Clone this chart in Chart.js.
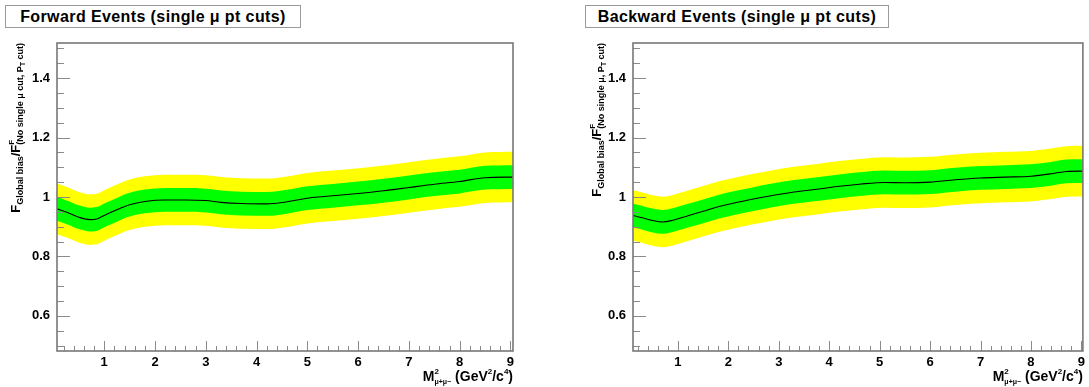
<!DOCTYPE html>
<html><head><meta charset="utf-8">
<script src="https://cdn.jsdelivr.net/npm/chart.js@4.4.0/dist/chart.umd.min.js"></script>
<style>
body{margin:0;background:#fff;width:1089px;height:387px;overflow:hidden;position:relative}
.wrap{position:absolute;top:0}
.ttl{position:absolute;top:5px;height:23px;box-sizing:border-box;border:1px solid #9a9a9a;background:#fff;color:#000;
 font:bold 16px "Liberation Sans",Arial,sans-serif;letter-spacing:0.4px;line-height:21px;text-align:center;white-space:nowrap;z-index:2}
</style></head><body>
<div class="wrap" style="left:0;width:545px;height:387px"><canvas id="c1" width="545" height="387"></canvas></div>
<div class="wrap" style="left:545px;width:544px;height:387px"><canvas id="c2" width="544" height="387"></canvas></div>
<div class="ttl" style="left:5px;width:296px">Forward Events (single μ pt cuts)</div>
<div class="ttl" style="left:585px;width:304px">Backward Events (single μ pt cuts)</div>
<script>
// ---------- data ----------
const titles = ["Forward Events (single μ pt cuts)", "Backward Events (single μ pt cuts)"];
const xTickLabels = [1, 2, 3, 4, 5, 6, 7, 8, 9];
const yTickLabels = [0.6, 0.8, 1, 1.2, 1.4];

// Forward panel
const fwdX      = [0.07,0.3,0.5,0.72,0.85,1.0,1.25,1.5,1.8,2.2,2.6,3.0,3.3,3.7,4.2,4.6,5.0,5.5,6.0,6.5,7.0,7.5,8.0,8.5,9.05];
const fwdRatio  = [0.960,0.946,0.932,0.924,0.926,0.938,0.957,0.974,0.985,0.990,0.990,0.988,0.982,0.978,0.977,0.984,0.996,1.004,1.012,1.021,1.032,1.043,1.052,1.065,1.067];
const fwdGreenHi= [1.000,0.986,0.972,0.964,0.966,0.978,0.997,1.014,1.025,1.030,1.030,1.028,1.022,1.018,1.017,1.024,1.036,1.044,1.052,1.061,1.072,1.083,1.092,1.105,1.107];
const fwdGreenLo= [0.920,0.906,0.892,0.884,0.886,0.898,0.917,0.934,0.945,0.950,0.950,0.948,0.942,0.938,0.937,0.944,0.956,0.964,0.972,0.981,0.992,1.003,1.012,1.025,1.027];
const fwdYellowHi=[1.045,1.031,1.017,1.009,1.011,1.023,1.042,1.059,1.070,1.075,1.075,1.073,1.067,1.063,1.062,1.069,1.081,1.089,1.097,1.106,1.117,1.128,1.137,1.150,1.152];
const fwdYellowLo=[0.875,0.861,0.847,0.839,0.841,0.853,0.872,0.889,0.900,0.905,0.905,0.903,0.897,0.893,0.892,0.899,0.911,0.919,0.927,0.936,0.947,0.958,0.967,0.980,0.982];

// Backward panel
const bwdX      = [0.1,0.3,0.5,0.7,0.9,1.2,1.5,1.8,2.1,2.5,2.9,3.3,3.8,4.2,4.6,5.1,5.5,6.0,6.5,7.0,7.5,8.0,8.4,8.7,9.05];
const bwdRatio  = [0.938,0.930,0.921,0.916,0.922,0.937,0.952,0.967,0.979,0.993,1.006,1.017,1.027,1.036,1.043,1.049,1.048,1.050,1.058,1.064,1.067,1.070,1.078,1.086,1.087];
const bwdGreenHi= [0.978,0.970,0.961,0.956,0.962,0.977,0.992,1.007,1.019,1.033,1.046,1.057,1.067,1.076,1.083,1.089,1.088,1.090,1.098,1.104,1.107,1.110,1.118,1.126,1.127];
const bwdGreenLo= [0.898,0.890,0.881,0.876,0.882,0.897,0.912,0.927,0.939,0.953,0.966,0.977,0.987,0.996,1.003,1.009,1.008,1.010,1.018,1.024,1.027,1.030,1.038,1.046,1.047];
const bwdYellowHi=[1.023,1.015,1.006,1.001,1.007,1.022,1.037,1.052,1.064,1.078,1.091,1.102,1.112,1.121,1.128,1.134,1.133,1.135,1.143,1.149,1.152,1.155,1.163,1.171,1.172];
const bwdYellowLo=[0.853,0.845,0.836,0.831,0.837,0.852,0.867,0.882,0.894,0.908,0.921,0.932,0.942,0.951,0.958,0.964,0.963,0.965,0.973,0.979,0.982,0.985,0.993,1.001,1.002];

// ---------- drawing helpers ----------
const FONT = '"Liberation Sans", Arial, sans-serif';
function pts(xs, ys){ return xs.map((x,i)=>({x:x, y:ys[i]})); }

function richWidth(ctx, segs){
  let w=0, pending=0;
  segs.forEach(s=>{
    ctx.font = 'bold '+s.s+'px '+FONT;
    const m = ctx.measureText(s.t).width;
    if (s.stack){ pending = Math.max(pending, m); }
    else { w += Math.max(m, pending); pending=0; }
  });
  return w + pending;
}
function drawRich(ctx, segs, x, y){
  let cx=x, pending=0;
  segs.forEach(s=>{
    ctx.font = 'bold '+s.s+'px '+FONT;
    ctx.textAlign='left'; ctx.textBaseline='alphabetic';
    ctx.fillText(s.t, cx, y+(s.dy||0));
    const m = ctx.measureText(s.t).width;
    if (s.stack){ pending = Math.max(pending, m); }
    else { cx += Math.max(m, pending); pending=0; }
  });
}

const xTitleSegs = [{t:'M',s:14},{t:'2',s:8,dy:-7,stack:true},{t:'μ+μ−',s:7,dy:3},{t:' (GeV',s:14},{t:'2',s:8,dy:-7},{t:'/c',s:14},{t:'4',s:8,dy:-7},{t:')',s:14}];
const yTitleFwd = [{t:'F',s:13},{t:'Global bias',s:9,dy:3},{t:'/F',s:13},{t:'F',s:8,dy:-6,stack:true},{t:'(No single μ cut, P',s:9,dy:3},{t:'T',s:7,dy:5},{t:' cut)',s:9,dy:3}];
const yTitleBwd = [{t:'F',s:13},{t:'Global bias',s:9,dy:3},{t:'/F',s:13},{t:'F',s:8,dy:-6,stack:true},{t:'(No single μ, P',s:9,dy:3},{t:'T',s:7,dy:5},{t:' cut)',s:9,dy:3}];

const framePlugin = {
  id:'frame',
  afterDraw(chart, args, o){
    const ctx = chart.ctx, a = chart.chartArea, xs = chart.scales.x, ys = chart.scales.y;
    ctx.save();
    ctx.strokeStyle = '#8a8a8a'; ctx.lineWidth = 1;
    // y ticks (inside)
    for (let k=0;k<=20;k++){
      const v = 0.5 + 0.05*k;
      if (v < ys.min || v > ys.max) continue;
      const py = Math.round(ys.getPixelForValue(v)) + 0.5;
      const len = (k%4===2) ? 13 : 7;
      ctx.beginPath(); ctx.moveTo(a.left, py); ctx.lineTo(a.left+len, py); ctx.stroke();
    }
    // x ticks (inside)
    for (let k=0;k<=46;k++){
      const v = 0.2*k;
      if (v < xs.min || v > xs.max+1e-6) continue;
      const px = Math.round(xs.getPixelForValue(v)) + 0.5;
      const len = (k%5===0) ? 10 : 5;
      ctx.beginPath(); ctx.moveTo(px, a.bottom); ctx.lineTo(px, a.bottom-len); ctx.stroke();
    }
    // frame
    ctx.strokeStyle = '#777'; ctx.lineWidth = 1.6;
    ctx.strokeRect(a.left, a.top, a.right-a.left, a.bottom-a.top);
    ctx.fillStyle = '#000';
    // x title, right aligned at frame right
    const wx = richWidth(ctx, xTitleSegs);
    drawRich(ctx, xTitleSegs, a.right - wx, 381);
    // y title, rotated, right aligned at frame top
    const wy = richWidth(ctx, o.ySegs);
    ctx.translate(o.yTitleX, a.top);
    ctx.rotate(-Math.PI/2);
    drawRich(ctx, o.ySegs, -wy, 0);
    ctx.restore();
  }
};

function makeChart(id, xs, c, gh, gl, yh, yl, opt){
  const line = {pointRadius:0, borderWidth:0, borderColor:'rgba(0,0,0,0)', cubicInterpolationMode:'monotone'};
  return new Chart(document.getElementById(id), {
    type:'line',
    data:{ datasets:[
      Object.assign({data:pts(xs,yh), fill:'+1', backgroundColor:'#ffff00', order:3}, line),
      Object.assign({data:pts(xs,yl), fill:false, order:3}, line),
      Object.assign({data:pts(xs,gh), fill:'+1', backgroundColor:'#00ff00', order:2}, line),
      Object.assign({data:pts(xs,gl), fill:false, order:2}, line),
      {data:pts(xs,c), fill:false, borderColor:'#000', borderWidth:1.1, pointRadius:0, cubicInterpolationMode:'monotone', order:1}
    ]},
    options:{
      responsive:false, animation:false, events:[],
      layout:{padding:{left:0, right:opt.rightPad, top:43, bottom:0}},
      plugins:{legend:{display:false}, tooltip:{enabled:false}, title:{display:false},
        frame:{ySegs:opt.ySegs, yTitleX:opt.yTitleX}},
      scales:{
        x:{type:'linear', min:opt.xmin, max:opt.xmax,
           afterFit:s=>{s.height=36;},
           afterBuildTicks:s=>{s.ticks = xTickLabels.map(v=>({value:v}));},
           ticks:{padding:4, color:'#000', font:{family:FONT, size:13, weight:'bold'}, callback:v=>String(v), maxRotation:0, autoSkip:false},
           grid:{display:false, drawTicks:false}, border:{display:false}},
        y:{type:'linear', min:0.482, max:1.518,
           afterFit:s=>{s.width=opt.yWidth;},
           afterBuildTicks:s=>{s.ticks = yTickLabels.map(v=>({value:v}));},
           ticks:{padding:7, color:'#000', font:{family:FONT, size:13, weight:'bold'}, callback:v=>String(v), autoSkip:false},
           grid:{display:false, drawTicks:false}, border:{display:false}}
      }
    },
    plugins:[framePlugin]
  });
}

makeChart('c1', fwdX, fwdRatio, fwdGreenHi, fwdGreenLo, fwdYellowHi, fwdYellowLo,
  {rightPad:32, yWidth:57, xmin:0.07, xmax:9.05, ySegs:yTitleFwd, yTitleX:20});
makeChart('c2', bwdX, bwdRatio, bwdGreenHi, bwdGreenLo, bwdYellowHi, bwdYellowLo,
  {rightPad:3, yWidth:88, xmin:0.11, xmax:9.03, ySegs:yTitleBwd, yTitleX:56});
</script>
</body></html>
